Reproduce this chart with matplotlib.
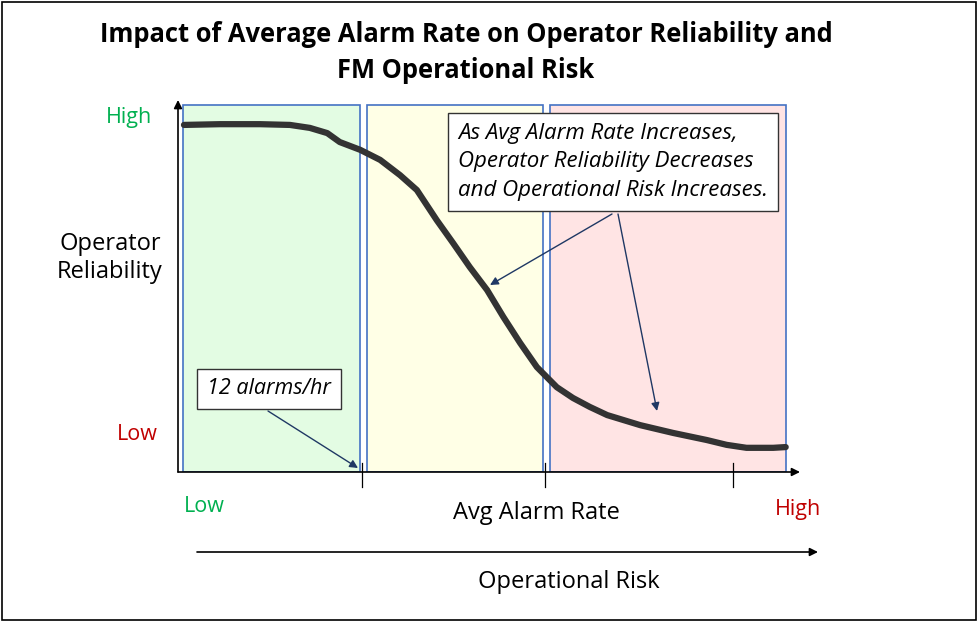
import matplotlib.pyplot as plt
from matplotlib.patches import Rectangle

# curve: avg alarm rate (0-100) vs operator reliability (0-100)
alarm_rate = [0.96, 6.75, 13.2, 18.0, 21.2, 24.0, 26.0, 29.3, 32.5, 35.7, 38.4,
              41.6, 44.2, 46.9, 49.7, 52.3, 55.0, 57.7, 60.9, 63.5, 66.2, 69.0,
              74.3, 79.6, 85.0, 88.2, 91.4, 95.7, 97.7]
reliability = [93.3, 93.5, 93.5, 93.3, 92.5, 91.1, 88.7, 86.6, 83.9, 79.8, 75.8,
               67.7, 61.6, 55.1, 48.9, 41.7, 34.7, 28.2, 22.8, 19.9, 17.5, 15.3,
               12.6, 10.5, 8.6, 7.3, 6.5, 6.5, 6.7]

# shaded zones (start, end, colour) and tick marks on the rate axis
zone_start = [0.8, 30.4, 59.8]
zone_end = [29.3, 58.7, 97.7]
zone_colors = ['#E3FCE3', '#FFFFE6', '#FFE4E4']
zone_top = 98.7
tick_pos = [29.6, 59.0, 89.2]

W, H = 979, 623
fig = plt.figure(figsize=(W / 100, H / 100), dpi=100)
font = ['Open Sans', 'DejaVu Sans']
plt.rcParams['font.family'] = font

# data axes
x0, x1, yb, yt = 178, 800, 472, 100
ax = fig.add_axes([x0 / W, 1 - yb / H, (x1 - x0) / W, (yb - yt) / H])
ax.set_xlim(0, 100)
ax.set_ylim(0, 100)
ax.axis('off')

# overlay in pixel units for the text and frame, drawn on top
ov = fig.add_axes([0, 0, 1, 1])
ov.set_xlim(0, W)
ov.set_ylim(H, 0)
ov.axis('off')
ov.set_zorder(5)

for s, e, c in zip(zone_start, zone_end, zone_colors):
    ax.add_patch(Rectangle((s, 0), e - s, zone_top, facecolor=c,
                           edgecolor='#4472C4', lw=1.2, zorder=1))

ax.plot(alarm_rate, reliability, color='#333333', lw=4.5,
        solid_capstyle='round', solid_joinstyle='round', zorder=3)

# axes arrows
arrow = dict(arrowstyle='-|>', color='black', lw=1.2, mutation_scale=12,
             shrinkA=0, shrinkB=0)
ax.annotate('', xy=(0, 100), xytext=(0, 0), arrowprops=arrow)
ax.annotate('', xy=(100, 0), xytext=(0, 0), arrowprops=arrow)
for t in tick_pos:
    ax.plot([t, t], [-4, 2.5], color='black', lw=0.9, clip_on=False)

# titles / labels
ov.text(466, 35, 'Impact of Average Alarm Rate on Operator Reliability and',
        ha='center', va='center', fontsize=18.4, fontweight='bold')
ov.text(466, 70, 'FM Operational Risk', ha='center', va='center',
        fontsize=18.4, fontweight='bold')
ov.text(129, 117, 'High', color='#00B050', ha='center', va='center', fontsize=15.5)
ov.text(137, 434, 'Low', color='#C00000', ha='center', va='center', fontsize=15.5)
ov.text(110, 258, 'Operator\nReliability', ha='center', va='center',
        fontsize=17, linespacing=1.25)
ov.text(204, 506, 'Low', color='#00B050', ha='center', va='center', fontsize=15.5)
ov.text(536, 513, 'Avg Alarm Rate', ha='center', va='center', fontsize=17)
ov.text(798, 509, 'High', color='#C00000', ha='center', va='center', fontsize=15.5)
ov.annotate('', xy=(818, 552), xytext=(197, 552), arrowprops=arrow)
ov.text(569, 582, 'Operational Risk', ha='center', va='center', fontsize=17)

# callouts
callout = dict(arrowstyle='-|>', color='#1F3864', lw=1, mutation_scale=12,
               shrinkA=0, shrinkB=0)
ov.text(269, 389, '12 alarms/hr', ha='center', va='center', fontsize=15.5,
        style='italic',
        bbox=dict(boxstyle='square,pad=0.45', facecolor='white',
                  edgecolor='#333333', lw=1))
ov.annotate('', xy=(358, 468), xytext=(268, 411), arrowprops=callout)
ov.text(613, 162, 'As Avg Alarm Rate Increases,\nOperator Reliability Decreases\n'
        'and Operational Risk Increases.', ha='center', va='center', fontsize=16,
        style='italic', linespacing=1.45, multialignment='left',
        bbox=dict(boxstyle='square,pad=0.45', facecolor='white',
                  edgecolor='#333333', lw=1))
ov.annotate('', xy=(490, 285), xytext=(612, 214), arrowprops=callout)
ov.annotate('', xy=(657, 411), xytext=(618, 214), arrowprops=callout)

# picture frame
ov.add_patch(Rectangle((2, 2), W - 5, H - 5, fill=False, edgecolor='black', lw=1.2))

fig.savefig('out.png', dpi=100)
